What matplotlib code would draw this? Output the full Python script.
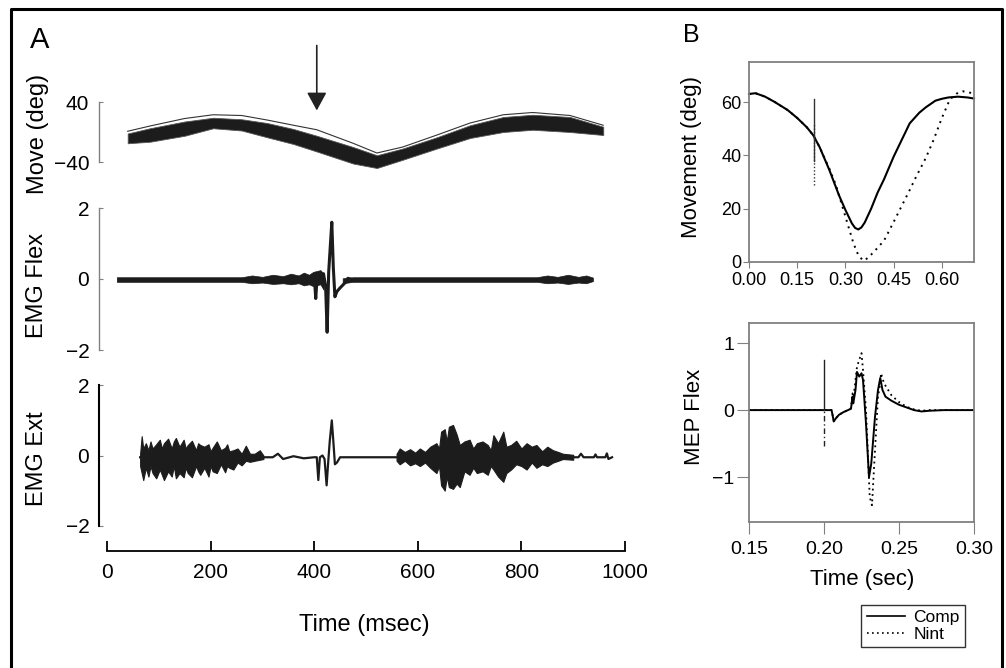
import matplotlib
matplotlib.use('Agg')
import matplotlib.pyplot as plt
from matplotlib.lines import Line2D

plt.rcParams['font.family'] = ['Liberation Sans', 'DejaVu Sans']

W, H = 1006, 668

# ---------------- panel A data (time in msec) ----------------
move_t = [40, 83, 150, 205, 260, 309, 360, 405, 475, 521, 571, 637, 701, 765, 822, 894, 958]
move_hi = [-2, 5, 14, 19, 17, 12, 4, -5, -20, -31, -22, -7, 9, 20, 23, 20, 7]
move_lo = [-15, -13, -5, 5, 2, -7, -16, -26, -42, -48, -37, -22, -8, 0, 3, 0, -4]
move_top = [1, 8, 18, 23, 22, 16, 9, 3, -15, -28, -20, -4, 12, 23, 26, 22, 9]

flex_env_t = [19, 260, 280, 300, 320, 340, 355, 370, 380, 390, 398, 412, 418]
flex_env_hi = [0.05, 0.05, 0.10, 0.06, 0.12, 0.08, 0.15, 0.10, 0.18, 0.12, 0.20, 0.25, 0.15]
flex_env_lo = [-0.08, -0.08, -0.12, -0.10, -0.14, -0.12, -0.15, -0.12, -0.18, -0.15, -0.20, -0.15, -0.30]
flex_env2_t = [455, 475, 830, 850, 870, 890, 910, 925, 938]
flex_env2_hi = [0.02, 0.05, 0.05, 0.10, 0.06, 0.12, 0.06, 0.10, 0.04]
flex_env2_lo = [-0.12, -0.08, -0.08, -0.12, -0.10, -0.14, -0.10, -0.12, -0.06]
flex_t = [395, 400, 403, 405, 407, 412, 418, 422, 425, 428, 431, 434, 437, 440, 444, 450, 460, 465, 475]
flex_v = [0.0, 0.1, -0.55, -0.1, 0.15, 0.05, 0.15, -0.2, -1.5, 0.2, 0.9, 1.6, 0.3, -0.5, -0.35, -0.25, -0.1, 0.02, -0.02]

ext1_t = [64, 67, 70, 75, 80, 84, 88, 95, 102, 106, 110, 118, 125, 129, 133, 140, 148, 152, 156, 164, 172, 176,
          180, 188, 196, 200, 204, 212, 220, 228, 232, 236, 244, 252, 260, 268, 276, 285, 295, 302]
ext1_hi = [0.05, 0.55, 0.2, 0.35, 0.15, 0.4, 0.2, 0.32, 0.45, 0.2, 0.35, 0.48, 0.2, 0.4, 0.5, 0.25, 0.45, 0.2,
           0.3, 0.42, 0.15, 0.35, 0.3, 0.25, 0.32, 0.12, 0.22, 0.4, 0.15, 0.22, 0.32, 0.12, 0.15, 0.2, 0.05, 0.28,
           0.05, 0.05, 0.15, 0.0]
ext1_lo = [-0.3, -0.5, -0.7, -0.35, -0.6, -0.3, -0.5, -0.65, -0.4, -0.55, -0.7, -0.45, -0.6, -0.3, -0.65, -0.5,
           -0.62, -0.35, -0.5, -0.62, -0.3, -0.45, -0.55, -0.35, -0.6, -0.3, -0.45, -0.5, -0.25, -0.48, -0.3,
           -0.35, -0.4, -0.2, -0.28, -0.15, -0.18, -0.15, -0.12, -0.1]
ext2_t = [559, 565, 575, 585, 595, 604, 614, 624, 636, 641, 645, 652, 656, 660, 668, 675, 681, 690, 700, 707, 714,
          725, 735, 741, 746, 755, 765, 771, 780, 790, 800, 810, 820, 829, 840, 850, 861, 871, 880, 900]
ext2_hi = [0.05, 0.2, 0.1, 0.18, 0.08, 0.2, 0.1, 0.25, 0.35, 0.2, 0.68, 0.75, 0.4, 0.82, 0.87, 0.6, 0.3, 0.4, 0.45,
           0.2, 0.35, 0.4, 0.3, 0.15, 0.58, 0.35, 0.68, 0.25, 0.3, 0.42, 0.2, 0.35, 0.25, 0.3, 0.12, 0.25, 0.15,
           0.1, 0.05, 0.02]
ext2_lo = [-0.15, -0.25, -0.15, -0.28, -0.22, -0.3, -0.2, -0.35, -0.5, -0.3, -0.85, -1.0, -0.6, -0.9, -0.95, -0.8,
           -0.9, -0.45, -0.55, -0.35, -0.5, -0.45, -0.55, -0.3, -0.4, -0.6, -0.75, -0.5, -0.4, -0.25, -0.3, -0.4,
           -0.2, -0.35, -0.25, -0.3, -0.2, -0.15, -0.1, -0.12]
ext_t = [64, 320, 330, 340, 360, 380, 400, 405, 408, 411, 416, 420, 424, 427, 430, 434, 437, 440, 444, 450,
         560, 910, 915, 920, 940, 943, 946, 962, 965, 968, 975]
ext_v = [-0.05, -0.05, 0.05, -0.1, -0.02, -0.08, -0.05, -0.05, -0.7, -0.05, 0.0, -0.1, -0.85, -0.2, 0.4, 1.0, 0.4, -0.25, -0.2, -0.05,
         -0.05, -0.05, 0.05, -0.05, -0.05, 0.03, -0.05, -0.05, 0.06, -0.1, -0.05]

a_xticks = [0, 200, 400, 600, 800, 1000]

# ---------------- panel B data ----------------
mov_t_comp = [0, 0.02, 0.05, 0.08, 0.1, 0.12, 0.15, 0.18, 0.2, 0.22, 0.25, 0.28, 0.3, 0.32, 0.33, 0.34, 0.35, 0.36,
              0.38, 0.4, 0.42, 0.45, 0.48, 0.5, 0.53, 0.55, 0.58, 0.6, 0.62, 0.65, 0.68, 0.7]
mov_comp = [63, 63.3, 62, 60, 58.5, 57, 54, 50.5, 47.5, 43, 34.5, 25, 19.5, 14.5, 12.8, 12.2, 13, 14.8,
            20, 26, 31, 39.5, 47, 52, 56, 58, 60.5, 61.2, 61.7, 62, 61.7, 61.3]
mov_t_nint = [0, 0.02, 0.05, 0.08, 0.1, 0.12, 0.15, 0.18, 0.2, 0.22, 0.25, 0.27, 0.3, 0.325, 0.34, 0.355,
              0.37, 0.39, 0.42, 0.45, 0.5, 0.52, 0.55, 0.575, 0.6, 0.625, 0.65, 0.665, 0.68, 0.7]
mov_nint = [63, 63.3, 62, 60, 58.5, 57, 54, 50.5, 47.5, 43, 35, 29, 17, 7, 2.6, 0.5,
            1.5, 4, 8, 15, 27, 32, 39, 46, 54, 61, 63.5, 64, 63.8, 63]

mep_t_comp = [0.15, 0.205, 0.2055, 0.2065, 0.208, 0.210, 0.213, 0.216, 0.218, 0.219, 0.2195, 0.221, 0.222,
              0.2235, 0.225, 0.226, 0.228, 0.230, 0.2315, 0.234, 0.236, 0.2375, 0.239, 0.241, 0.245, 0.25,
              0.255, 0.26, 0.265, 0.27, 0.28, 0.30]
mep_comp = [0.0, 0.0, -0.05, -0.17, -0.12, -0.07, -0.03, 0.0, 0.02, 0.2, 0.1, 0.3, 0.57,
            0.5, 0.55, 0.45, -0.2, -1.0, -0.8, -0.1, 0.3, 0.48, 0.3, 0.2, 0.14, 0.08,
            0.04, 0.0, -0.02, -0.01, 0.0, 0.0]
mep_t_nint = [0.15, 0.205, 0.2055, 0.2065, 0.208, 0.210, 0.213, 0.216, 0.218, 0.219, 0.2195, 0.221, 0.222,
              0.2235, 0.225, 0.226, 0.228, 0.2305, 0.232, 0.2335, 0.236, 0.2375, 0.238, 0.240, 0.245, 0.25,
              0.255, 0.26, 0.265, 0.27, 0.28, 0.30]
mep_nint = [0.0, 0.0, -0.05, -0.16, -0.12, -0.07, -0.03, 0.0, 0.03, 0.25, 0.15, 0.45, 0.65,
            0.75, 0.85, 0.6, 0.0, -1.3, -1.42, -0.8, 0.2, 0.4, 0.55, 0.4, 0.22, 0.12,
            0.05, 0.01, -0.01, 0.0, 0.0, 0.0]

b1_xticks = [0.0, 0.15, 0.30, 0.45, 0.60]
b1_xlabels = ['0.00', '0.15', '0.30', '0.45', '0.60']
b1_yticks = [0, 20, 40, 60]
b2_xticks = [0.15, 0.20, 0.25, 0.30]
b2_xlabels = ['0.15', '0.20', '0.25', '0.30']
b2_yticks = [-1, 0, 1]

GREY = '#808080'
INK = '#1c1c1c'

fig = plt.figure(figsize=(W / 100, H / 100), dpi=100)


def add_px(x0, y0, x1, y1):
    return fig.add_axes([x0 / W, 1 - y1 / H, (x1 - x0) / W, (y1 - y0) / H])


def a_style(ax, ticks, labels, spine_col, bounds):
    for s in ['top', 'right', 'bottom']:
        ax.spines[s].set_visible(False)
    ax.spines['left'].set_color(spine_col)
    ax.spines['left'].set_bounds(*bounds)
    ax.set_xlim(-15.4, 1000)
    ax.set_xticks([])
    ax.set_yticks(ticks)
    ax.set_yticklabels(labels)
    ax.tick_params(axis='y', direction='in', length=3, color=GREY, labelsize=15, pad=7)
    ax.patch.set_visible(False)


# --- A: movement ---
ax_move = add_px(99, 87, 625, 177)
ax_move.set_ylim(-60, 60)
a_style(ax_move, [-40, 40], ['\u221240', '40'], GREY, (-40, 40))
ax_move.spines['left'].set_linewidth(1.0)
ax_move.fill_between(move_t, move_lo, move_hi, color=INK, lw=0.6, edgecolor='#555555')
ax_move.plot(move_t, move_top, color='#333333', lw=0.8)
ax_move.annotate('', xy=(405, 25), xytext=(405, 119), annotation_clip=False,
                 arrowprops=dict(arrowstyle='-|>,head_length=0.55,head_width=0.3',
                                 color='#222222', lw=1.2, mutation_scale=20))

# --- A: EMG flex ---
ax_flex = add_px(99, 279 - 2.3 * 35.5, 625, 279 + 2.3 * 35.5)
ax_flex.set_ylim(-2.3, 2.3)
a_style(ax_flex, [-2, 0, 2], ['\u22122', '0', '2'], GREY, (-2, 2))
ax_flex.spines['left'].set_linewidth(1.0)
ax_flex.fill_between(flex_env_t, flex_env_lo, flex_env_hi, color=INK, lw=0.5)
ax_flex.fill_between(flex_env2_t, flex_env2_lo, flex_env2_hi, color=INK, lw=0.5)
ax_flex.plot(flex_t, flex_v, color=INK, lw=2.2)

# --- A: EMG ext ---
ax_ext = add_px(99, 375, 625, 551)
ax_ext.set_ylim(-2.72, 2.293)
ax_ext.set_xlim(-15.4, 1000)
for s in ['top', 'right']:
    ax_ext.spines[s].set_visible(False)
ax_ext.spines['left'].set_bounds(-2, 2)
ax_ext.spines['left'].set_linewidth(1.5)
ax_ext.spines['bottom'].set_bounds(0, 1000)
ax_ext.spines['bottom'].set_linewidth(1.3)
ax_ext.set_yticks([-2, 0, 2])
ax_ext.set_yticklabels(['\u22122', '0', '2'])
ax_ext.tick_params(axis='y', direction='in', length=3, color=GREY, labelsize=15, pad=7)
ax_ext.set_xticks(a_xticks)
ax_ext.set_xticklabels([str(v) for v in a_xticks])
ax_ext.tick_params(axis='x', direction='in', length=7.5, width=1.3, labelsize=15, pad=9)
ax_ext.patch.set_visible(False)
ax_ext.plot(ext_t, ext_v, color=INK, lw=1.6)
ax_ext.fill_between(ext1_t, ext1_lo, ext1_hi, color=INK, lw=0.8)
ax_ext.fill_between(ext2_t, ext2_lo, ext2_hi, color=INK, lw=0.8)

fig.text(38 / W, 1 - 134 / H, 'Move (deg)', rotation=90, ha='center', va='center', fontsize=17)
fig.text(37 / W, 1 - 285 / H, 'EMG Flex', rotation=90, ha='center', va='center', fontsize=17)
fig.text(37 / W, 1 - 459 / H, 'EMG Ext', rotation=90, ha='center', va='center', fontsize=17)
fig.text(364 / W, 1 - 625 / H, 'Time (msec)', ha='center', va='center', fontsize=17)
fig.text(30 / W, 1 - 48 / H, 'A', fontsize=21, va='baseline')


def b_style(ax):
    for s in ax.spines.values():
        s.set_color(GREY)
        s.set_linewidth(1.3)


# --- B: movement ---
ax_b1 = add_px(749, 62, 974, 262)
b_style(ax_b1)
ax_b1.set_xlim(0, 0.7)
ax_b1.set_ylim(0, 75)
ax_b1.set_xticks(b1_xticks)
ax_b1.set_xticklabels(b1_xlabels)
ax_b1.set_yticks(b1_yticks)
ax_b1.tick_params(direction='out', length=4.5, color=GREY, labelsize=13)
ax_b1.tick_params(axis='y', pad=1)
ax_b1.tick_params(axis='x', pad=3)
ax_b1.plot(mov_t_comp, mov_comp, color='black', lw=1.5, clip_on=False)
ax_b1.plot(mov_t_nint, mov_nint, color='black', lw=1.4, ls=(0, (1, 2.5)), clip_on=False)
ax_b1.plot([0.202, 0.202], [38, 61], color='#333333', lw=1.0)
ax_b1.plot([0.202, 0.202], [29, 52], color='#333333', lw=1.0, ls=(0, (1, 1.5)))

# --- B: MEP ---
ax_b2 = add_px(749, 323, 974, 522)
b_style(ax_b2)
ax_b2.set_xlim(0.15, 0.30)
ax_b2.set_ylim(-1.67, 1.3)
ax_b2.set_xticks(b2_xticks)
ax_b2.set_xticklabels(b2_xlabels)
ax_b2.set_yticks(b2_yticks)
ax_b2.set_yticklabels(['\u22121', '0', '1'])
ax_b2.tick_params(direction='out', length=8.5, color=GREY, labelsize=14)
ax_b2.tick_params(axis='y', pad=2)
ax_b2.tick_params(axis='x', pad=5)
ax_b2.plot(mep_t_comp, mep_comp, color='black', lw=1.4)
ax_b2.plot(mep_t_nint, mep_nint, color='black', lw=1.3, ls=(0, (1, 2)))
ax_b2.plot([0.2, 0.2], [0, 0.75], color='#222222', lw=1.0)
ax_b2.plot([0.2, 0.2], [-0.53, 0], color='#222222', lw=1.0, ls=(0, (4, 2, 1, 2)))

fig.text(692 / W, 1 - 157 / H, 'Movement (deg)', rotation=90, ha='center', va='center', fontsize=16)
fig.text(695 / W, 1 - 417 / H, 'MEP Flex', rotation=90, ha='center', va='center', fontsize=16)
fig.text(862 / W, 1 - 580 / H, 'Time (sec)', ha='center', va='center', fontsize=16)
fig.text(683 / W, 1 - 42 / H, 'B', fontsize=18, va='baseline')

handles = [Line2D([], [], color='black', lw=1.2), Line2D([], [], color='black', lw=1.2, ls=(0, (1, 2)))]
leg = fig.legend(handles, ['Comp', 'Nint'], loc='upper right',
                 bbox_to_anchor=(965 / W, 1 - 605 / H), fontsize=12.5, frameon=True,
                 fancybox=False, edgecolor='black', handlelength=2.2, labelspacing=0.1,
                 borderpad=0.3, handletextpad=0.5, borderaxespad=0)
leg.get_frame().set_linewidth(1.0)

# outer frame (bottom edge is cut off in the original)
fig.add_artist(Line2D([11 / W, 11 / W, 1002 / W, 1002 / W], [0, 1 - 9 / H, 1 - 9 / H, 0],
                      transform=fig.transFigure, color='black', lw=2.2))

fig.savefig('out.png', dpi=100)
